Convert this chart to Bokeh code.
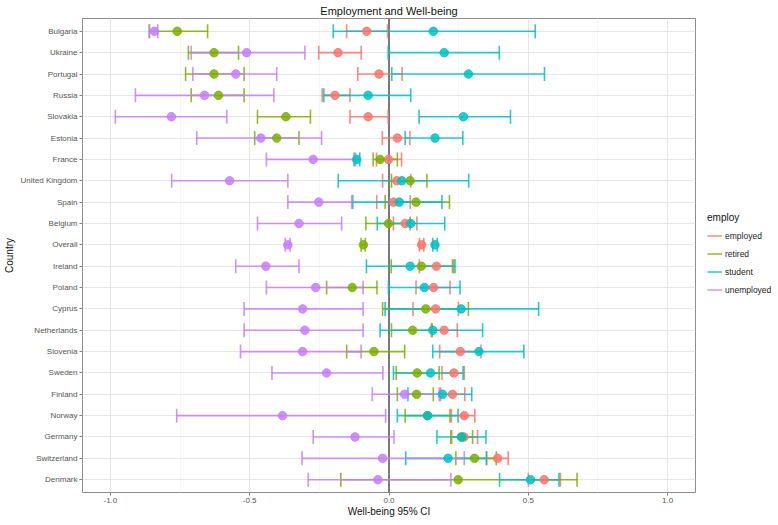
from bokeh.plotting import figure
from bokeh.models import (ColumnDataSource, Whisker, TeeHead, Span, Legend, LegendItem,
                          FactorRange, Range1d, FixedTicker, NumeralTickFormatter)
from bokeh.embed import file_html
from bokeh.resources import INLINE

countries = ["Bulgaria", "Ukraine", "Portugal", "Russia", "Slovakia", "Estonia", "France",
             "United Kingdom", "Spain", "Belgium", "Overall", "Ireland", "Poland", "Cyprus",
             "Netherlands", "Slovenia", "Sweden", "Finland", "Norway", "Germany",
             "Switzerland", "Denmark"]

employ_levels = ["employed", "retired", "student", "unemployed"]

employed_mean = [-0.080, -0.183, -0.036, -0.194, -0.075, 0.030, -0.002, 0.028, 0.016, 0.058, 0.117,
                 0.170, 0.160, 0.167, 0.198, 0.256, 0.233, 0.228, 0.270, 0.269, 0.390, 0.557]
employed_lo = [-0.152, -0.252, -0.112, -0.240, -0.140, -0.024, -0.045, -0.023, -0.044, 0.016, 0.109,
               0.109, 0.097, 0.086, 0.152, 0.182, 0.190, 0.185, 0.224, 0.225, 0.350, 0.500]
employed_hi = [-0.005, -0.100, 0.047, -0.140, -0.003, 0.075, 0.045, 0.078, 0.076, 0.100, 0.125,
               0.232, 0.219, 0.249, 0.245, 0.330, 0.270, 0.272, 0.308, 0.318, 0.428, 0.615]

retired_mean = [-0.760, -0.628, -0.628, -0.612, -0.370, -0.403, -0.032, 0.076, 0.097, -0.002, -0.092,
                0.116, -0.132, 0.132, 0.085, -0.054, 0.101, 0.099, 0.138, 0.261, 0.307, 0.248]
retired_lo = [-0.860, -0.720, -0.730, -0.710, -0.472, -0.482, -0.057, 0.009, -0.014, -0.083, -0.100,
              0.008, -0.224, -0.023, 0.009, -0.152, 0.026, 0.030, 0.058, 0.222, 0.240, -0.173]
retired_hi = [-0.651, -0.540, -0.520, -0.520, -0.282, -0.323, 0.030, 0.136, 0.217, 0.076, -0.085,
              0.228, -0.043, 0.285, 0.155, 0.056, 0.180, 0.159, 0.219, 0.300, 0.385, 0.675]

student_mean = [0.159, 0.198, 0.285, -0.075, 0.267, 0.165, -0.116, 0.046, 0.037, 0.078, 0.165,
                0.076, 0.127, 0.259, 0.157, 0.323, 0.149, 0.192, 0.139, 0.260, 0.212, 0.508]
student_lo = [-0.200, -0.003, 0.010, -0.234, 0.108, 0.058, -0.125, -0.182, -0.130, -0.042, 0.157,
              -0.081, -0.002, -0.014, -0.032, 0.157, 0.016, 0.068, 0.030, 0.172, 0.060, 0.397]
student_hi = [0.525, 0.396, 0.558, 0.078, 0.436, 0.265, -0.105, 0.286, 0.190, 0.200, 0.173,
              0.237, 0.255, 0.537, 0.336, 0.484, 0.266, 0.297, 0.248, 0.348, 0.350, 0.610]

unemployed_mean = [-0.842, -0.511, -0.550, -0.662, -0.781, -0.460, -0.272, -0.572, -0.252, -0.323, -0.363,
                   -0.442, -0.263, -0.310, -0.302, -0.310, -0.224, 0.056, -0.382, -0.122, -0.023, -0.040]
unemployed_lo = [-0.860, -0.710, -0.704, -0.910, -0.982, -0.690, -0.440, -0.780, -0.363, -0.472, -0.372,
                 -0.550, -0.440, -0.520, -0.520, -0.533, -0.420, -0.060, -0.762, -0.272, -0.312, -0.290]
unemployed_hi = [-0.830, -0.302, -0.403, -0.413, -0.582, -0.242, -0.120, -0.363, -0.134, -0.170, -0.355,
                 -0.323, -0.093, -0.093, -0.093, -0.100, -0.022, 0.180, -0.012, 0.018, 0.270, 0.222]

x_ticks = [-1.0, -0.5, 0.0, 0.5, 1.0]
x_minor = [-0.75, -0.25, 0.25, 0.75]

series = {
    "employed": (employed_mean, employed_lo, employed_hi),
    "retired": (retired_mean, retired_lo, retired_hi),
    "student": (student_mean, student_lo, student_hi),
    "unemployed": (unemployed_mean, unemployed_lo, unemployed_hi),
}
colors = {"employed": "#F8766D", "retired": "#7CAE00", "student": "#00BFC4", "unemployed": "#C77CFF"}

FONT = "Liberation Sans"
ALPHA = 0.85

p = figure(frame_width=613, frame_height=474,
           x_range=Range1d(-1.1, 1.1),
           y_range=FactorRange(factors=list(reversed(countries)), range_padding=0.1,
                               range_padding_units="absolute"),
           output_backend="svg", toolbar_location=None,
           min_border_left=75, min_border_right=77, min_border_top=8, min_border_bottom=20)

p.title.text = "Employment and Well-being"
p.title.align = "center"
p.title.text_font = FONT
p.title.text_font_size = "11px"
p.title.text_font_style = "normal"
p.title.text_color = "#111111"
p.title.standoff = 4

p.background_fill_color = "white"
p.border_fill_color = "white"
p.outline_line_color = "#8c8c8c"
p.outline_line_width = 1

# grids
p.xgrid.grid_line_color = "#e6e6e6"
p.xgrid.minor_grid_line_color = "#f6f6f6"
p.ygrid.grid_line_color = "#e6e6e6"

# axes
p.xaxis.ticker = FixedTicker(ticks=x_ticks, minor_ticks=x_minor)
p.xaxis.formatter = NumeralTickFormatter(format="0.0")
p.xaxis.axis_label = "Well-being 95% CI"
p.yaxis.axis_label = "Country"
for ax in (p.xaxis[0], p.yaxis[0]):
    ax.axis_line_color = None
    ax.major_tick_line_color = "#7f7f7f"
    ax.major_tick_out = 3
    ax.major_tick_in = 0
    ax.minor_tick_line_color = None
    ax.major_label_text_font = FONT
    ax.major_label_text_font_size = "8px"
    ax.major_label_text_color = "#555555"
    ax.major_label_standoff = 2
    ax.axis_label_text_font = FONT
    ax.axis_label_text_font_size = "10px"
    ax.axis_label_text_font_style = "normal"
    ax.axis_label_text_color = "#111111"
    ax.axis_label_standoff = 3
p.xaxis[0].major_label_standoff = 1
p.xaxis[0].axis_label_standoff = 0

zero = Span(location=0, dimension="height", line_color="#6e6e6e", line_width=1.8, level="underlay")
p.add_layout(zero)

sources = {}
seg_renderers = {}
for lvl in employ_levels:
    m, lo, hi = series[lvl]
    src = ColumnDataSource(dict(country=countries, mean=m, lo=lo, hi=hi))
    sources[lvl] = src
    c = colors[lvl]
    w = Whisker(source=src, base="country", lower="lo", upper="hi", dimension="width",
                line_alpha=0,
                upper_head=TeeHead(size=14, line_color=c, line_width=1.6, line_alpha=ALPHA),
                lower_head=TeeHead(size=14, line_color=c, line_width=1.6, line_alpha=ALPHA))
    p.add_layout(w)
    seg_renderers[lvl] = p.segment(x0="lo", y0="country", x1="hi", y1="country", source=src,
                                   line_color=c, line_width=1.6, line_alpha=ALPHA)

for lvl in employ_levels:
    c = colors[lvl]
    p.scatter(x="mean", y="country", source=sources[lvl], size=8.5, marker="circle",
              fill_color=c, line_color=c, fill_alpha=ALPHA, line_alpha=ALPHA)

legend = Legend(items=[LegendItem(label=lvl, renderers=[seg_renderers[lvl]]) for lvl in employ_levels],
                title="employ", location="center_left", orientation="vertical")
legend.title_text_font = FONT
legend.title_text_font_size = "10px"
legend.title_text_font_style = "normal"
legend.title_text_color = "#111111"
legend.title_standoff = 4
legend.label_text_font = FONT
legend.label_text_font_size = "8.5px"
legend.label_text_color = "#222222"
legend.glyph_width = 15
legend.glyph_height = 18
legend.label_height = 18
legend.label_standoff = 3
legend.spacing = 0
legend.padding = 0
legend.margin = 12
legend.border_line_color = None
legend.background_fill_alpha = 0
p.add_layout(legend, "right")

open("out.html", "w").write(file_html(p, INLINE))
